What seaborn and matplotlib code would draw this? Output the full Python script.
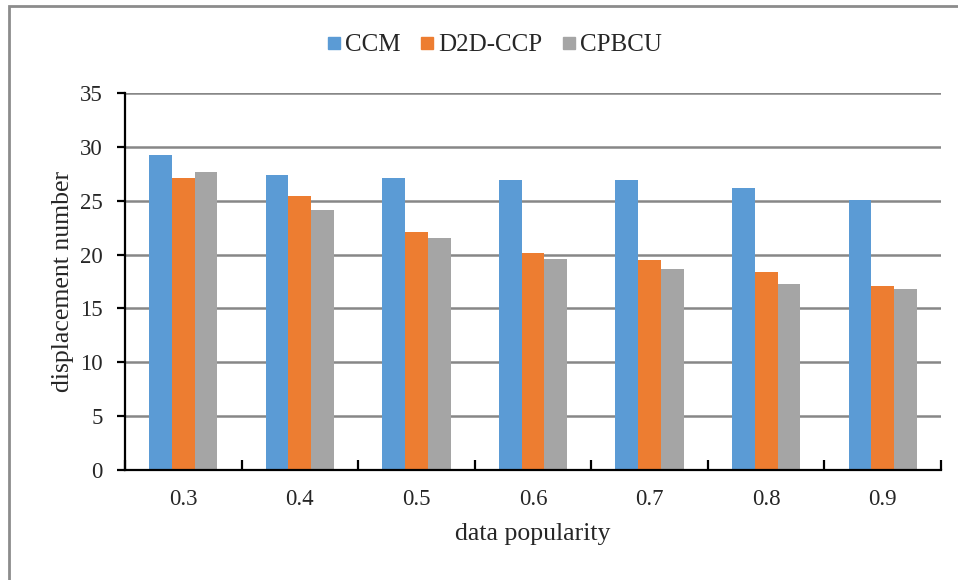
import matplotlib
matplotlib.use("Agg")
import matplotlib.pyplot as plt
from matplotlib.lines import Line2D
from matplotlib.patches import Rectangle
import seaborn as sns
import pandas as pd

popularity = ["0.3", "0.4", "0.5", "0.6", "0.7", "0.8", "0.9"]
ccm = [29.2, 27.35, 27.1, 26.9, 26.9, 26.15, 25.1]
d2d_ccp = [27.1, 25.45, 22.1, 20.1, 19.5, 18.4, 17.1]
cpbcu = [27.7, 24.15, 21.55, 19.55, 18.7, 17.3, 16.8]
series = ["CCM", "D2D-CCP", "CPBCU"]
colors = ["#5B9BD5", "#ED7D31", "#A5A5A5"]

df = pd.DataFrame({
    "data popularity": popularity * 3,
    "value": ccm + d2d_ccp + cpbcu,
    "method": [s for s in series for _ in popularity],
})

sns.set_theme(style="white")
plt.rcParams["font.family"] = ["Liberation Serif", "DejaVu Serif"]

fig = plt.figure(figsize=(9.58, 5.8), dpi=100)
ax = fig.add_axes([125 / 958, 1 - 470 / 580, (941 - 125) / 958, (470 - 93) / 580])

sns.barplot(data=df, x="data popularity", y="value", hue="method",
            palette=colors, width=0.585, saturation=1, ax=ax,
            edgecolor="none", legend=False, errorbar=None)

ax.set_xlim(-0.5, len(popularity) - 0.5)
ax.set_ylim(0, 35)
ax.set_yticks(range(0, 36, 5))
ax.yaxis.grid(True, color="#878787", linewidth=1.8)
ax.set_axisbelow(True)

for side in ["top", "right"]:
    ax.spines[side].set_visible(False)
for side in ["left", "bottom"]:
    ax.spines[side].set_color("black")
    ax.spines[side].set_linewidth(1.6)

# category ticks sit between groups, pointing into the plot
ax.set_xticks([i + 0.5 for i in range(-1, len(popularity))], minor=True)
ax.tick_params(axis="x", which="minor", direction="in", length=7, width=1.6,
               color="black", bottom=True)
ax.tick_params(axis="x", which="major", length=0, pad=14, labelsize=16.5,
               labelcolor="#262626")
ax.tick_params(axis="y", direction="out", length=6, width=1.6, color="black",
               left=True, pad=10, labelsize=16.5, labelcolor="#262626")

ax.set_xlabel("data popularity", fontsize=18.5, color="#262626", labelpad=9)
ax.set_ylabel("displacement number", fontsize=18.5, color="#262626", labelpad=4)

handles = [Line2D([], [], marker="s", linestyle="none", markersize=8,
                  markerfacecolor=c, markeredgecolor=c) for c in colors]
fig.legend(handles, series, loc="center", bbox_to_anchor=(494 / 958, 1 - 45 / 580),
           ncol=3, frameon=False, fontsize=18, handletextpad=0.15,
           columnspacing=0.75, handlelength=0.6)

# outer chart frame
fig.patches.append(Rectangle((9 / 958, -0.05), 1.2, 1 - 6 / 580 + 0.05,
                             transform=fig.transFigure, fill=False,
                             edgecolor="#8c8c8c", linewidth=2))

fig.savefig("out.png", dpi=100)
